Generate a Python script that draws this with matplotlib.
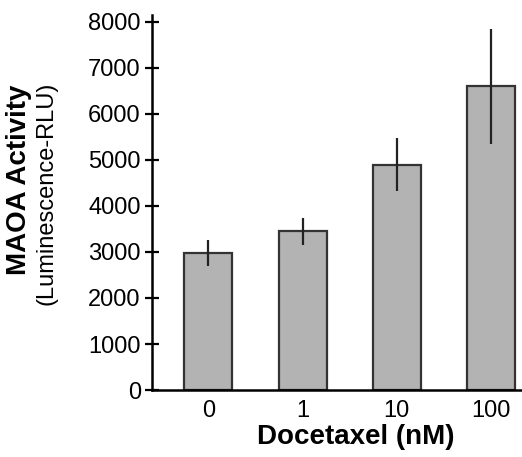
import matplotlib
matplotlib.use("Agg")
import matplotlib.pyplot as plt
import numpy as np

plt.rcParams['font.family'] = ['Liberation Sans', 'DejaVu Sans']

doses = ['0', '1', '10', '100']
activity = [2980, 3450, 4900, 6600]
errors = [290, 290, 580, 1250]

fig = plt.figure(figsize=(5.22, 4.57), dpi=100)
ax = fig.add_axes([0.291, 0.1466, 0.709, 0.8204])

x = np.arange(len(doses))
ax.bar(x, activity, width=0.51, color='#b3b3b3', edgecolor='#333333', linewidth=1.6)
ax.errorbar(x, activity, yerr=errors, fmt='none', ecolor='#222222', elinewidth=1.6, capsize=0)

ax.set_xlim(-0.6, 3.33)
ax.set_ylim(0, 8150)
ax.set_yticks(range(0, 8001, 1000))
ax.set_xticks(x)
ax.set_xticklabels(doses)

for s in ['top', 'right']:
    ax.spines[s].set_visible(False)
ax.spines['left'].set_linewidth(1.8)
ax.spines['bottom'].set_linewidth(1.8)

ax.tick_params(axis='y', direction='inout', length=10, width=1.6, labelsize=17, pad=3)
ax.tick_params(axis='x', length=0, labelsize=17, pad=7)

ax.set_xlabel('Docetaxel (nM)', fontsize=20, fontweight='bold', va='center')
ax.xaxis.set_label_coords(0.551, -0.125)
fig.text(0.037, 0.606, 'MAOA Activity', rotation=90, fontsize=20, fontweight='bold',
         ha='center', va='center')
fig.text(0.09, 0.578, '(Luminescence-RLU)', rotation=90, fontsize=17,
         ha='center', va='center')

fig.savefig('out.png', dpi=100)
